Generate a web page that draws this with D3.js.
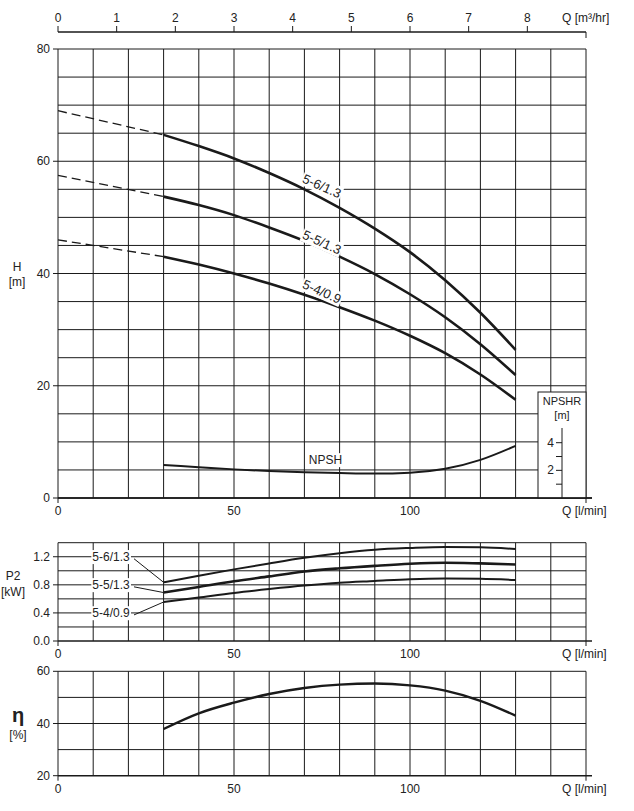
<!DOCTYPE html>
<html>
<head>
<meta charset="utf-8">
<script src="https://cdn.jsdelivr.net/npm/d3@7"></script>
<style>
  body { margin: 0; background: #fff; }
  text { font-family: "Liberation Sans", Arial, sans-serif; fill: #222; }
</style>
</head>
<body>
<svg id="chart" width="634" height="811"></svg>
<script>
// flow points, l/min
const flowQ = [30, 40, 50, 60, 70, 80, 90, 100, 110, 120, 130];

// head curves [m]
const headDashed = {
  "5-6/1.3": [69, 64.7],
  "5-5/1.3": [57.5, 53.7],
  "5-4/0.9": [46, 43]
};
const head56 = [64.7, 62.7, 60.5, 57.9, 55, 51.7, 48, 43.8, 38.8, 33, 26.4];
const head55 = [53.7, 52.2, 50.4, 48.2, 45.8, 43, 39.9, 36.3, 32.2, 27.4, 21.9];
const head54 = [43, 41.6, 40, 38.2, 36.2, 34, 31.6, 28.9, 25.8, 22, 17.5];
const npsh = [5.9, 5.5, 5.1, 4.8, 4.6, 4.45, 4.35, 4.5, 5.2, 6.8, 9.3];

// power P2 [kW]
const p2_56 = [0.836, 0.93, 1.02, 1.105, 1.185, 1.25, 1.30, 1.325, 1.34, 1.335, 1.31];
const p2_55 = [0.69, 0.77, 0.85, 0.92, 0.99, 1.035, 1.07, 1.10, 1.115, 1.105, 1.09];
const p2_54 = [0.555, 0.62, 0.685, 0.74, 0.79, 0.83, 0.855, 0.88, 0.89, 0.885, 0.87];

// efficiency [%]
const eta = [37.9, 43.9, 48, 51.3, 53.6, 54.9, 55.3, 54.6, 52.6, 48.7, 43];

const qTicks = [0, 50, 100];
const m3Ticks = [0, 1, 2, 3, 4, 5, 6, 7, 8];
const hTicks = [0, 20, 40, 60, 80];
const p2Ticks = [0, 0.4, 0.8, 1.2];
const etaTicks = [20, 40, 60];
const npshrTicks = [2, 4];

const svg = d3.select("#chart");
const x = d3.scaleLinear().domain([0, 150]).range([58, 586]);
const ink = "#1a1a1a";

function panel(y, yGrid, yTicks, fmt) {
  const g = svg.append("g");
  const [y0, y1] = y.range();
  g.selectAll(".vg").data(d3.range(0, 151, 10)).join("line")
    .attr("x1", d => x(d)).attr("x2", d => x(d))
    .attr("y1", y0).attr("y2", y1)
    .attr("stroke", ink).attr("stroke-width", 1);
  g.selectAll(".hg").data(yGrid).join("line")
    .attr("x1", x(0)).attr("x2", x(150))
    .attr("y1", d => y(d)).attr("y2", d => y(d))
    .attr("stroke", ink).attr("stroke-width", 1);
  g.append("line").attr("x1", x(0)).attr("x2", x(150) + 6)
    .attr("y1", y0).attr("y2", y0).attr("stroke", ink).attr("stroke-width", 1.5);
  g.selectAll(".bt").data([0, 150]).join("line")
    .attr("x1", d => x(d)).attr("x2", d => x(d))
    .attr("y1", y0).attr("y2", y0 + 5).attr("stroke", ink);
  g.selectAll(".ql").data(qTicks).join("text")
    .attr("x", d => x(d)).attr("y", y0 + 17)
    .attr("text-anchor", "middle").attr("font-size", 12).text(d => d);
  g.append("text").attr("x", 562).attr("y", y0 + 17)
    .attr("font-size", 12).text("Q [l/min]");
  g.selectAll(".lt").data(yTicks).join("line")
    .attr("x1", x(0) - 5).attr("x2", x(0))
    .attr("y1", d => y(d)).attr("y2", d => y(d)).attr("stroke", ink);
  g.selectAll(".ll").data(yTicks).join("text")
    .attr("x", x(0) - 8).attr("y", d => y(d) + 4)
    .attr("text-anchor", "end").attr("font-size", 12).text(fmt);
  return g;
}

function curve(g, xs, ys, y, width = 2.6, dash = null) {
  const line = d3.line().x((d, i) => x(xs[i])).y(d => y(d)).curve(d3.curveMonotoneX);
  g.append("path").datum(ys).attr("d", line)
    .attr("fill", "none").attr("stroke", ink).attr("stroke-width", width)
    .attr("stroke-dasharray", dash);
}

// text with a white box behind it
function boxedLabel(g, tx, ty, t, size, rotate = 0) {
  const lg = g.append("g").attr("transform", `translate(${tx},${ty}) rotate(${rotate})`);
  const txt = lg.append("text").attr("text-anchor", "middle").attr("y", size * 0.36)
    .attr("font-size", size).text(t);
  const bb = txt.node().getBBox();
  lg.insert("rect", "text").attr("x", bb.x - 1).attr("y", bb.y)
    .attr("width", bb.width + 2).attr("height", bb.height).attr("fill", "#fff");
}

// ---- top axis m3/hr
const xm3 = d3.scaleLinear().domain([0, 9]).range([x(0), x(150)]);
svg.append("line").attr("x1", x(0)).attr("x2", x(150)).attr("y1", 32).attr("y2", 32)
  .attr("stroke", ink).attr("stroke-width", 1.5);
svg.selectAll(".mt").data(m3Ticks.concat([9])).join("line")
  .attr("x1", d => xm3(d)).attr("x2", d => xm3(d))
  .attr("y1", d => d === 9 ? 32 : 26).attr("y2", d => d === 9 ? 38 : 32).attr("stroke", ink);
svg.selectAll(".ml").data(m3Ticks).join("text")
  .attr("x", d => xm3(d)).attr("y", 22).attr("text-anchor", "middle")
  .attr("font-size", 12).text(d => d);
svg.append("text").attr("x", 562).attr("y", 22).attr("font-size", 12).text("Q [m³/hr]");

// ---- head panel
const yH = d3.scaleLinear().domain([0, 80]).range([498, 49]);
const gH = panel(yH, d3.range(5, 81, 5), hTicks, d => d);
[["5-6/1.3", head56], ["5-5/1.3", head55], ["5-4/0.9", head54]].forEach(([k, vals]) => {
  curve(gH, [0, 30], headDashed[k], yH, 1.3, "9,5");
  curve(gH, flowQ, vals, yH);
});
curve(gH, flowQ, npsh, yH, 2);
const headLabels = [["5-6/1.3", 75, 55.6], ["5-5/1.3", 75, 45.6], ["5-4/0.9", 75, 36.8]];
headLabels.forEach(([t, q, h]) => boxedLabel(gH, x(q), yH(h), t, 13, 24));
boxedLabel(gH, x(76), yH(6.8), "NPSH", 12);
svg.append("text").attr("x", 17).attr("y", 271).attr("text-anchor", "middle").attr("font-size", 12).text("H");
svg.append("text").attr("x", 17).attr("y", 286).attr("text-anchor", "middle").attr("font-size", 12).text("[m]");

// NPSHR inset
const yN = d3.scaleLinear().domain([0, 4]).range([yH(0), 442.7]);
gH.append("rect").attr("x", 538).attr("y", 392).attr("width", x(150) - 538).attr("height", yH(0) - 392)
  .attr("fill", "#fff").attr("stroke", ink);
gH.append("line").attr("x1", 562).attr("x2", 562).attr("y1", 428).attr("y2", yH(0)).attr("stroke", ink);
gH.selectAll(".nt").data([1, 2, 3, 4]).join("line")
  .attr("x1", 556).attr("x2", 562).attr("y1", d => yN(d)).attr("y2", d => yN(d)).attr("stroke", ink);
gH.selectAll(".nl").data(npshrTicks).join("text")
  .attr("x", 554).attr("y", d => yN(d) + 4).attr("text-anchor", "end").attr("font-size", 12).text(d => d);
gH.append("text").attr("x", 562).attr("y", 405).attr("text-anchor", "middle").attr("font-size", 11).text("NPSHR");
gH.append("text").attr("x", 562).attr("y", 419).attr("text-anchor", "middle").attr("font-size", 11).text("[m]");
gH.append("line").attr("x1", x(0)).attr("x2", x(150) + 6)
  .attr("y1", yH(0)).attr("y2", yH(0)).attr("stroke", ink).attr("stroke-width", 1.5);

// ---- P2 panel
const yP = d3.scaleLinear().domain([0, 1.4]).range([641, 542.7]);
const gP = panel(yP, d3.range(0.2, 1.41, 0.2), p2Ticks, d => d.toFixed(1));
curve(gP, flowQ, p2_56, yP, 2);
curve(gP, flowQ, p2_55, yP, 2.6);
curve(gP, flowQ, p2_54, yP, 2);
const p2Labels = [["5-6/1.3", 1.2, p2_56[0]], ["5-5/1.3", 0.8, p2_55[0]], ["5-4/0.9", 0.4, p2_54[0]]];
p2Labels.forEach(([t, v, end]) => {
  gP.append("line").attr("x1", 134).attr("y1", yP(v) + 2).attr("x2", x(30)).attr("y2", yP(end))
    .attr("stroke", ink).attr("stroke-width", 1);
  boxedLabel(gP, 111, yP(v), t, 12);
});
svg.append("text").attr("x", 13).attr("y", 580).attr("text-anchor", "middle").attr("font-size", 12).text("P2");
svg.append("text").attr("x", 13).attr("y", 596).attr("text-anchor", "middle").attr("font-size", 12).text("[kW]");

// ---- efficiency panel
const yE = d3.scaleLinear().domain([20, 60]).range([775.7, 671.3]);
const gE = panel(yE, d3.range(30, 61, 10), etaTicks, d => d);
curve(gE, flowQ, eta, yE, 2.4);
svg.append("text").attr("x", 18).attr("y", 722).attr("text-anchor", "middle")
  .attr("font-size", 20).attr("font-weight", "bold").text("η");
svg.append("text").attr("x", 18).attr("y", 739).attr("text-anchor", "middle").attr("font-size", 12).text("[%]");
</script>
</body>
</html>
